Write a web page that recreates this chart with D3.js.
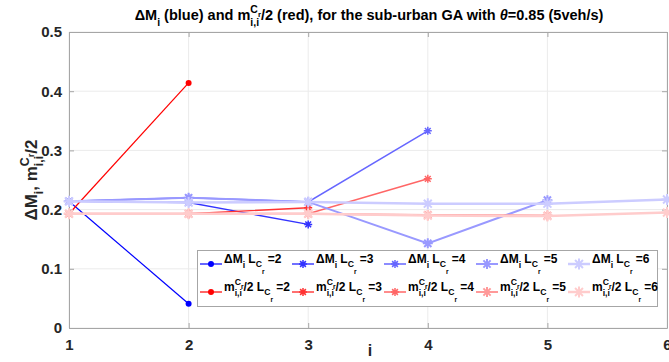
<!DOCTYPE html>
<html><head><meta charset="utf-8">
<script src="https://cdn.jsdelivr.net/npm/d3@7"></script>
<style>
body{margin:0;background:#fff;}
text{font-family:"Liberation Sans",Arial,Helvetica,sans-serif;font-weight:bold;white-space:pre;}
</style></head>
<body><svg id="c" width="669" height="362"></svg>
<script>
// ---- data ----
const xTicks = [1, 2, 3, 4, 5, 6];
const yTicks = [0, 0.1, 0.2, 0.3, 0.4, 0.5];
const yTickLabels = ["0", "0.1", "0.2", "0.3", "0.4", "0.5"];
const Lvalues = [2, 3, 4, 5, 6];
const deltaM2 = [0.214, 0.041];
const deltaM3 = [0.214, 0.212, 0.175];
const deltaM4 = [0.214, 0.220, 0.213, 0.333];
const deltaM5 = [0.214, 0.220, 0.213, 0.143, 0.216];
const deltaM6 = [0.214, 0.212, 0.213, 0.210, 0.210, 0.217];
const mC2 = [0.193, 0.414];
const mC3 = [0.193, 0.193, 0.203];
const mC4 = [0.193, 0.193, 0.193, 0.252];
const mC5 = [0.193, 0.193, 0.193, 0.191, 0.190];
const mC6 = [0.193, 0.193, 0.193, 0.190, 0.189, 0.195];
const deltaM = [deltaM2, deltaM3, deltaM4, deltaM5, deltaM6];
const mC = [mC2, mC3, mC4, mC5, mC6];

// ---- styles ----
const blues = ["#0000ff", "#3333ff", "#6666ff", "#9999ff", "#ccccff"];
const reds = ["#ff0000", "#ff3333", "#ff6666", "#ff9999", "#ffcccc"];
const lineW = [1.2, 1.4, 1.5, 2, 2.5];
const mSize = [3, 4, 4, 5, 5.5];

const svg = d3.select("#c");
const M = {l: 69, r: 667, t: 32, b: 328};
const x = d3.scaleLinear().domain([1, 6]).range([M.l, M.r]);
const y = d3.scaleLinear().domain([0, 0.5]).range([M.b, M.t]);

// grid
const grid = svg.append("g").attr("stroke", "#ebebeb").attr("stroke-width", 1);
xTicks.forEach(t => grid.append("line").attr("x1", x(t)).attr("x2", x(t)).attr("y1", M.t).attr("y2", M.b));
yTicks.forEach(t => grid.append("line").attr("x1", M.l).attr("x2", M.r).attr("y1", y(t)).attr("y2", y(t)));

// axes (inward ticks)
const axCol = "#a6a6a6";
const gx = svg.append("g").attr("transform", `translate(0,${M.b})`)
  .call(d3.axisBottom(x).tickValues(xTicks).tickSizeInner(-5).tickSizeOuter(0).tickPadding(11).tickFormat(d3.format("d")));
const gy = svg.append("g").attr("transform", `translate(${M.l},0)`)
  .call(d3.axisLeft(y).tickValues(yTicks).tickSizeInner(-5).tickSizeOuter(0).tickPadding(7).tickFormat((d, i) => yTickLabels[i]));
const gx2 = svg.append("g").attr("transform", `translate(0,${M.t})`)
  .call(d3.axisTop(x).tickValues(xTicks).tickSizeInner(-5).tickSizeOuter(0).tickFormat(""));
const gy2 = svg.append("g").attr("transform", `translate(${M.r},0)`)
  .call(d3.axisRight(y).tickValues(yTicks).tickSizeInner(-5).tickSizeOuter(0).tickFormat(""));
[gx, gy, gx2, gy2].forEach(g => {
  g.selectAll("path, line").attr("stroke", axCol);
  g.selectAll("text").attr("font-size", 15).attr("fill", "#262626").attr("font-family", null);
});

// marker drawing
function marker(g, cx, cy, k, col) {
  const s = mSize[k];
  if (k === 0) {
    g.append("circle").attr("cx", cx).attr("cy", cy).attr("r", s).attr("fill", col);
  } else {
    const d = s * 0.72;
    const p = `M${cx - s},${cy}H${cx + s}M${cx},${cy - s}V${cy + s}M${cx - d},${cy - d}L${cx + d},${cy + d}M${cx - d},${cy + d}L${cx + d},${cy - d}`;
    g.append("path").attr("d", p).attr("stroke", col).attr("stroke-width", k >= 3 ? 2 : 1.5).attr("fill", "none");
  }
}

const plot = svg.append("g");
const line = d3.line().x((d, i) => x(i + 1)).y(d => y(d));
Lvalues.forEach((L, k) => {
  [[deltaM[k], blues[k]], [mC[k], reds[k]]].forEach(([vals, col]) => {
    plot.append("path").attr("d", line(vals)).attr("fill", "none").attr("stroke", col).attr("stroke-width", lineW[k]);
    vals.forEach((v, i) => marker(plot, x(i + 1), y(v), k, col));
  });
});

// rich text helper
function rich(parent, parts, base) {
  const g = parent.append("g");
  function draw(list, x0) {
    let xx = x0;
    for (const p of list) {
      if (p.stack) {
        xx = Math.max(...p.stack.map(l => draw(l, xx)));
      } else {
        const fs = base * [1, 0.72, 0.55][p.lvl || 0];
        const t = g.append("text").attr("x", xx).attr("y", (p.dy || 0) * base).attr("font-size", fs).text(p.t);
        if (p.it) t.attr("font-style", "italic");
        xx += t.node().getComputedTextLength();
      }
    }
    return xx;
  }
  const w = draw(parts, 0);
  return {g, w};
}
const mPart = [{t: "m"}, {stack: [[{t: "C", lvl: 1, dy: -0.5}, {t: "r", lvl: 2, dy: -0.2}], [{t: "i,i", lvl: 1, dy: 0.38}]]}];
const LPart = n => [{t: " L"}, {t: "C", lvl: 1, dy: 0.35}, {t: "r", lvl: 2, dy: 0.95}, {t: " =" + n}];

// title
{
  const parts = [{t: "ΔM"}, {t: "i", lvl: 1, dy: 0.38}, {t: " (blue) and "}, ...mPart,
    {t: "/2 (red), for the sub-urban GA with "}, {t: "θ", it: true}, {t: "=0.85 (5veh/s)"}];
  const r = rich(svg, parts, 14.5);
  r.g.attr("transform", `translate(${369 - r.w / 2},20)`).attr("fill", "#000");
}
// y label
{
  const parts = [{t: "ΔM"}, {t: "i", lvl: 1, dy: 0.38}, {t: ", "}, ...mPart, {t: "/2"}];
  const r = rich(svg, parts, 17);
  r.g.attr("transform", `translate(37,180) rotate(-90) translate(${-r.w / 2},0)`).attr("fill", "#262626");
}
// x label
svg.append("text").attr("x", 370).attr("y", 356).attr("text-anchor", "middle").attr("font-size", 16).attr("fill", "#262626").text("i");

// legend
const leg = svg.append("g");
leg.append("rect").attr("x", 197.5).attr("y", 250.5).attr("width", 460).attr("height", 56).attr("fill", "#fff").attr("stroke", "#a6a6a6");
Lvalues.forEach((L, k) => {
  const x0 = 200 + k * 92;
  [[264, blues[k], [{t: "ΔM"}, {t: "i", lvl: 1, dy: 0.38}, ...LPart(L)]],
   [292, reds[k], [...mPart, {t: "/2"}, ...LPart(L)]]].forEach(([yy, col, parts]) => {
    leg.append("line").attr("x1", x0).attr("x2", x0 + 22).attr("y1", yy).attr("y2", yy).attr("stroke", col).attr("stroke-width", lineW[k]);
    marker(leg, x0 + 11, yy, k, col);
    const r = rich(leg, parts, 12);
    r.g.attr("transform", `translate(${x0 + 24},${yy - 1})`).attr("fill", "#000");
  });
});
</script></body></html>
